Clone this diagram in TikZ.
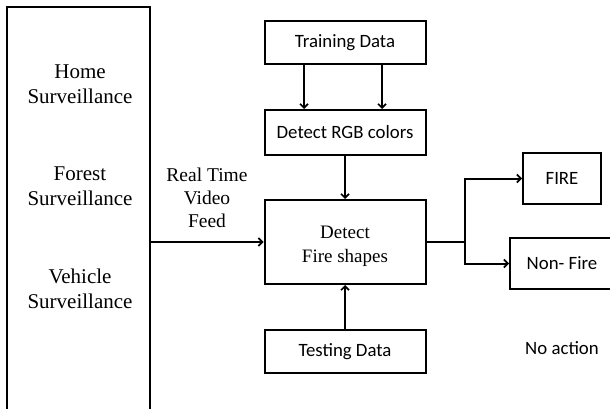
\documentclass[tikz,border=0pt]{standalone}
\usepackage{fontspec}
\setmainfont{Liberation Serif}
\newfontfamily\calibri{Carlito}
\usetikzlibrary{arrows.meta}

\tikzset{
  box/.style={draw, line width=2pt, minimum width=161pt, inner sep=0pt,
              font=\calibri\fontsize{18.8}{22}\selectfont, align=center},
  serif/.style={font=\fontsize{21}{25}\selectfont, align=center, inner sep=0pt},
  arr/.style={line width=2pt, -{Straight Barb[length=4pt,width=8pt,line width=1.6pt]}},
  wire/.style={line width=2pt}
}

\begin{document}
\begin{tikzpicture}[x=1pt,y=-1pt]
  \useasboundingbox (0,0) rectangle (610,409);
  \clip (0,0) rectangle (610,409);
  \fill[white] (0,0) rectangle (610,409);

  % application sources (box runs off the bottom edge)
  \node[draw, line width=2pt, minimum width=143pt, minimum height=423pt, inner sep=0pt]
    (source) at (78.5,218.5) {};
  \node[serif] (home)    at (80,84)    {Home\\Surveillance};
  \node[serif] (forest)  at (80,186)   {Forest\\Surveillance};
  \node[serif] (vehicle) at (80,289)   {Vehicle\\Surveillance};

  % processing chain
  \node[box, minimum height=43pt] (train) at (345,42.5)  {Training Data};
  \node[box, minimum height=45pt] (rgb)   at (345,132.5) {Detect RGB colors};
  \node[box, minimum height=84pt] (shape) at (345,242) {};
  \node[font=\fontsize{19}{24}\selectfont, align=center, inner sep=0pt] (shapetext) at (345,246) {Detect\\Fire shapes};
  \node[box, minimum height=43pt] (test)  at (345,351.5) {Testing Data};

  \node[font=\fontsize{19.5}{23}\selectfont, align=center, inner sep=0pt] (feed) at (207,198) {Real Time\\Video\\Feed};

  % outcomes
  \node[box, minimum width=78pt, minimum height=51pt] (fire) at (562,178.5) {FIRE};
  \node[box, minimum width=104pt, minimum height=51pt] (nonfire) at (562,263.5) {Non- Fire};
  \node[font=\calibri\fontsize{18.8}{22}\selectfont, inner sep=0pt] (noaction) at (562,348) {No action};

  % connectors
  \draw[arr] ([xshift=-41pt]train.south) -- ([xshift=-41pt]rgb.north);
  \draw[arr] ([xshift=37pt]train.south) -- ([xshift=37pt]rgb.north);
  \draw[arr] (rgb.south) -- (shape.north);
  \draw[arr] (test.north) -- (shape.south);
  \draw[arr] (shape.west -| source.east) -- (shape.west);

  \coordinate (split) at (465,242);
  \draw[wire] (shape.east) -- (split);
  \draw[arr] (split) |- (fire.west);
  \draw[arr] (split) |- (nonfire.west);
\end{tikzpicture}
\end{document}
